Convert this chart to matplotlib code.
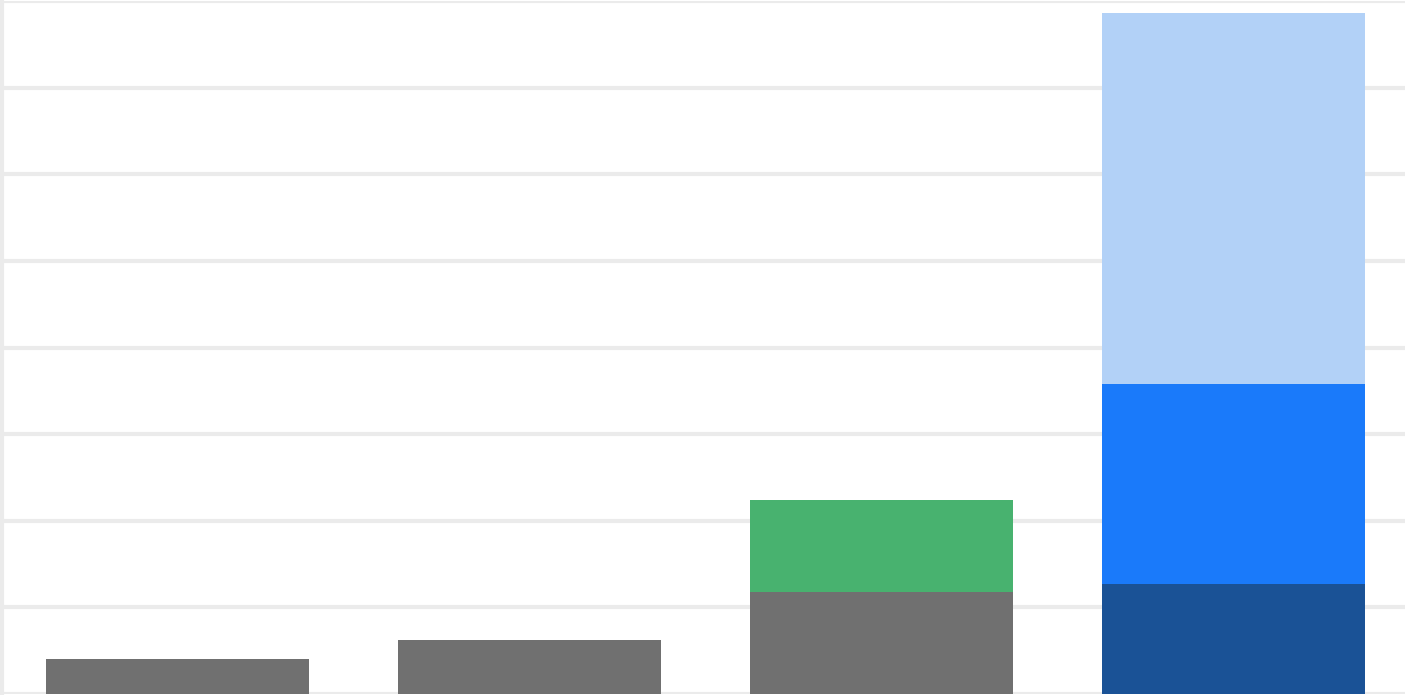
import matplotlib.pyplot as plt
import numpy as np

# categories (no visible labels in the reference)
categorias = ['A', 'B', 'C', 'D']

# stacked segments per bar, bottom to top
base_cinza = [0.40, 0.62, 1.18, 0.0]
verde = [0.0, 0.0, 1.06, 0.0]
azul_escuro = [0.0, 0.0, 0.0, 1.27]
azul = [0.0, 0.0, 0.0, 2.31]
azul_claro = [0.0, 0.0, 0.0, 4.28]

x = np.arange(len(categorias))
largura = 0.747

fig = plt.figure(figsize=(14.05, 6.95), dpi=100)
ax = fig.add_axes([2 / 1405, 1 / 695, 1 - 2 / 1405 + 0.0 , 693 / 695])

series = [
    (base_cinza, '#707070'),
    (verde, '#48b26f'),
    (azul_escuro, '#1a5296'),
    (azul, '#1a7afa'),
    (azul_claro, '#b2d1f7'),
]
fundo = np.zeros(len(categorias))
for valores, cor in series:
    v = np.array(valores)
    ax.bar(x, v, largura, bottom=fundo, color=cor, zorder=3)
    fundo = fundo + v

ax.set_xlim(-0.4986, 3.487)
ax.set_ylim(0, 8)
ax.set_yticks(np.arange(0, 9, 1))
ax.yaxis.grid(True, color='#ebebeb', linewidth=3, zorder=0)
ax.set_xticks([])
ax.tick_params(left=False, labelleft=False)
for lado in ['top', 'right', 'bottom']:
    ax.spines[lado].set_visible(False)
ax.spines['left'].set_color('#ebebeb')
ax.spines['left'].set_linewidth(3)

fig.savefig('out.png', dpi=100)
